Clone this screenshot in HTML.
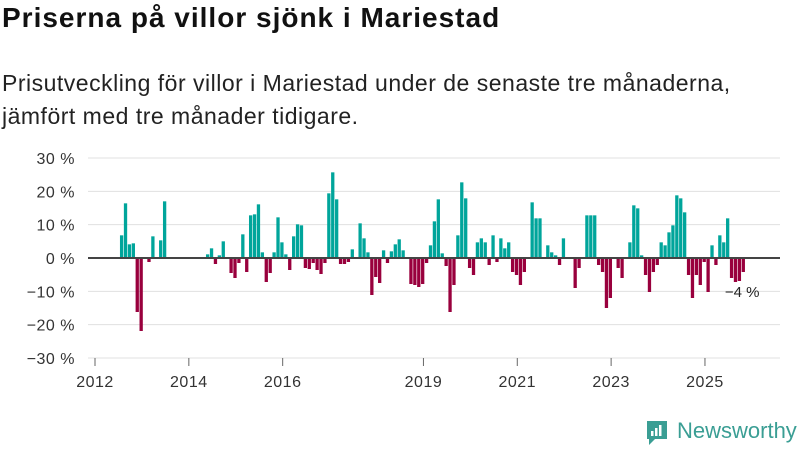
<!DOCTYPE html>
<html><head><meta charset="utf-8"><style>
body{margin:0;width:800px;height:450px;background:#fff;font-family:"Liberation Sans","DejaVu Sans",sans-serif;overflow:hidden;position:relative}
#t{position:absolute;left:2px;top:2px;font-size:28px;letter-spacing:1px;font-weight:bold;color:#111;margin:0}
#s{position:absolute;left:2px;top:67px;font-size:23px;letter-spacing:0.5px;line-height:33px;color:#222;margin:0}
svg{position:absolute;left:0;top:0}
</style></head><body>
<h1 id="t">Priserna på villor sjönk i Mariestad</h1>
<p id="s">Prisutveckling för villor i Mariestad under de senaste tre månaderna,<br>jämfört med tre månader tidigare.</p>
<svg id="c" width="800" height="450"></svg>
<script>
const startMonth = 6; // index from 2012-01
const values = [6.8,16.4,4.1,4.4,-16.2,-21.9,null,-1.2,6.5,null,5.3,17,
null,null,null,null,null,null,null,null,null,null,
1.1,2.9,-1.8,0.8,5,null,-4.5,-6,-1.5,7.1,-4.2,12.8,13.1,16.1,1.7,-7.2,-4.5,1.7,12.2,4.7,1.1,-3.6,6.5,10.1,9.8,-3,-3.3,-1.5,-3.6,-4.8,-1.5,19.4,
25.7,17.6,-1.8,-1.8,-1.2,2.6,null,10.4,5.9,1.7,-11.1,-5.7,-7.5,2.3,-1.5,2,4.1,5.6,2.3,null,
-7.8,-8.1,-8.7,-7.8,-1.5,3.8,11,17.6,1.4,-2.4,-16.2,-8.1,6.8,22.7,17.9,-3,-5.1,4.7,5.9,4.7,-2.1,6.8,-1.2,5.9,2.9,4.7,-4.2,-5.1,-8.1,-4.2,null,
16.7,11.9,11.9,null,3.8,1.7,0.8,-2.1,5.9,null,null,-9,-3,null,12.8,12.8,12.8,-2.1,-4.2,-15,-12,null,-3,-6,null,
4.7,15.8,14.9,0.8,-5.1,-10.2,-4.2,-2.1,4.7,3.8,7.7,9.8,18.8,17.9,13.7,-5.1,-12,-5.1,-8.1,-1.2,-10.2,3.8,-2.1,6.8,4.7,11.9,-6,-7.2,-6.9,-4.2];
const yTicks = [30,20,10,0,-10,-20,-30];
const xTickYears = [2012,2014,2016,2019,2021,2023,2025];
const lastLabel = "−4 %";

const svg = document.getElementById('c');
const NS = 'http://www.w3.org/2000/svg';
const y = v => 258 - v * 3.333;
const x = m => 95 + m * 3.91;
function mk(tag, attrs){const e=document.createElementNS(NS,tag);for(const k in attrs)e.setAttribute(k,attrs[k]);svg.appendChild(e);return e;}
yTicks.forEach(t=>{
  const g=mk('line',{x1:88,x2:780,y1:y(t),y2:y(t),stroke:'#e0e0e0','stroke-width':1});
  
  
  const tx=mk('text',{x:75,y:y(t)+6,'text-anchor':'end','font-size':16,'letter-spacing':0.5,fill:'#333'});
  tx.textContent=(t<0?'−'+(-t):t)+' %';
  
  
});
values.forEach((v,i)=>{
  if(v===null)return;
  const m=startMonth+i;
  const r=mk('rect',{x:x(m)+1.5,width:3.3,y:Math.min(y(v),y(0)),height:Math.abs(y(v)-y(0)),fill:v>=0?'#00a59b':'#99003d'});
  
  
});
const zl=mk('line',{x1:88,x2:780,y1:y(0),y2:y(0),stroke:'#444','stroke-width':2});


xTickYears.forEach(yr=>{
  const m=(yr-2012)*12;
  const l=mk('line',{x1:x(m),x2:x(m),y1:358,y2:366,stroke:'#666','stroke-width':1});
  
  
  const tx=mk('text',{x:x(m),y:387,'text-anchor':'middle','font-size':16,'letter-spacing':0.5,fill:'#333'});
  tx.textContent=yr;
  
  
});
const lastM=startMonth+values.length-1;
const lb=mk('text',{x:x(lastM)+2,y:y(values[values.length-1])+25,'font-size':15,fill:'#222','text-anchor':'middle'});
lb.textContent=lastLabel;


</script>
<div style="position:absolute;left:645px;top:419px;display:flex;align-items:center">
<svg width="24" height="28" viewBox="0 0 24 28" style="position:static"><path d="M2 2h20v18H10l-6 6v-6H2z" fill="#3a9e94"/><rect x="6" y="12" width="2.5" height="5" fill="#fff"/><rect x="10" y="9" width="2.5" height="8" fill="#fff"/><rect x="14" y="6" width="2.5" height="11" fill="#fff"/></svg>
<span style="font-size:22px;color:#3a9e94;margin-left:8px;margin-top:-4px">Newsworthy</span></div>
</body></html>
